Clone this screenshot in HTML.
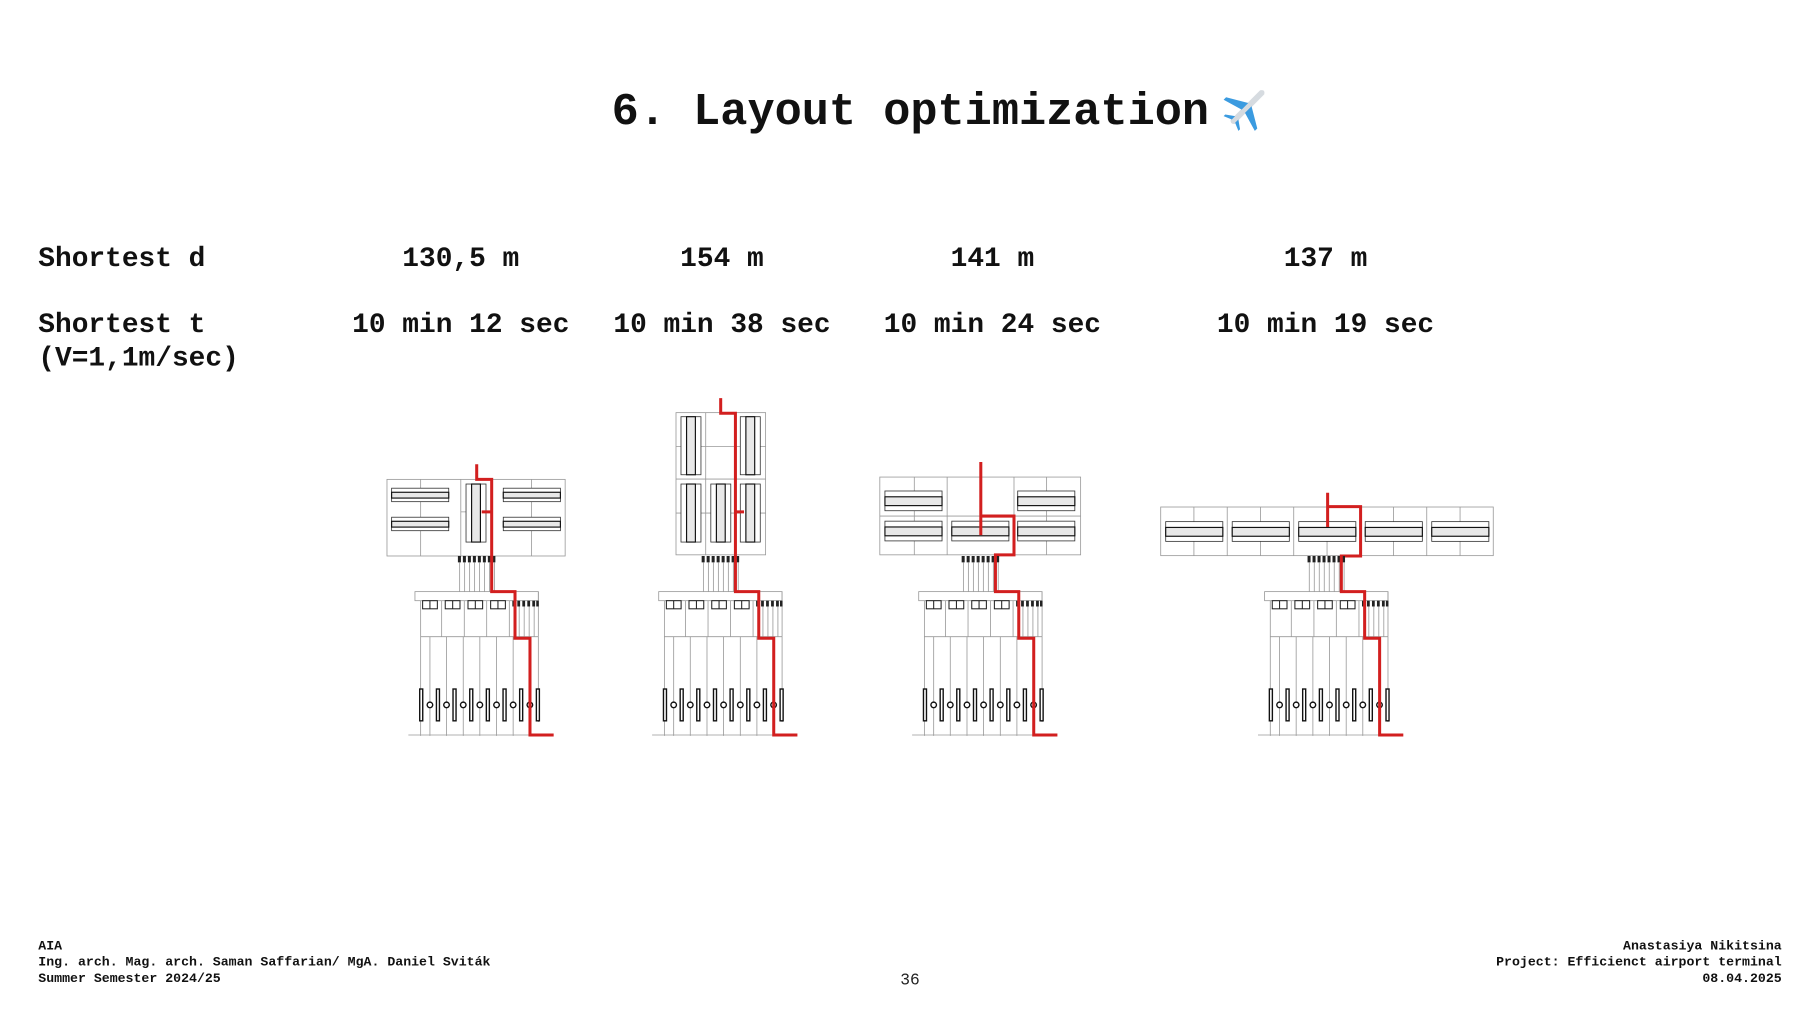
<!DOCTYPE html>
<html><head><meta charset="utf-8"><style>
html,body{margin:0;padding:0;background:#fff;}
svg{display:block;}
.t{font-family:"Liberation Mono",monospace;font-weight:bold;fill:#111;}
.g{stroke:#999;stroke-width:0.7;fill:none;}
.k{stroke:#222;stroke-width:0.9;}
.r{stroke:#d21f1f;stroke-width:2.6;fill:none;stroke-linejoin:miter;}
</style></head><body>
<svg width="1820" height="1024" viewBox="0 0 1568 882.2" preserveAspectRatio="none" xmlns="http://www.w3.org/2000/svg">
<defs>
<g id="term">
  <g fill="#222">
    <rect x="394.5" y="479" width="2.6" height="5.5"/><rect x="398.8" y="479" width="2.6" height="5.5"/>
    <rect x="403.1" y="479" width="2.6" height="5.5"/><rect x="407.4" y="479" width="2.6" height="5.5"/>
    <rect x="411.7" y="479" width="2.6" height="5.5"/><rect x="416" y="479" width="2.6" height="5.5"/>
    <rect x="420.3" y="479" width="2.6" height="5.5"/><rect x="424.2" y="479" width="2.6" height="5.5"/>
  </g>
  <g class="g">
    <path d="M396 484.5V510M400.3 484.5V510M404.6 484.5V510M408.9 484.5V510M413.2 484.5V510M417.5 484.5V510M421.8 484.5V510M426 484.5V510"/>
    <rect x="357.5" y="509.7" width="106.3" height="7.8"/>
    <path d="M362.4 517.5V634M380.5 517.5V548.5M400 517.5V548.5M419.3 517.5V548.5M438.8 517.5V548.5M443 517.5V548.5M447.3 517.5V548.5M451.6 517.5V548.5M455.9 517.5V548.5M460.2 517.5V548.5M463.8 509.7V548.5"/>
    <path d="M362.4 548.5H463.8"/>
    <path d="M370.4 548.5V634M384.7 548.5V634M399.1 548.5V634M413.4 548.5V634M427.8 548.5V634M442.1 548.5V634M456.5 548.5V634M463.8 548.5V622"/>
    <path d="M351.8 633.2H457"/>
  </g>
  <g fill="#fff" stroke="#222" stroke-width="0.9">
    <rect x="364.1" y="517.5" width="12.7" height="7"/><rect x="383.6" y="517.5" width="12.7" height="7"/>
    <rect x="403.2" y="517.5" width="12.6" height="7"/><rect x="422.7" y="517.5" width="12.7" height="7"/>
  </g>
  <path class="k" d="M370.4 517.5v7M390 517.5v7M409.5 517.5v7M429 517.5v7"/>
  <g fill="#222">
    <rect x="441.4" y="517.5" width="2.4" height="5"/><rect x="445.7" y="517.5" width="2.4" height="5"/>
    <rect x="450" y="517.5" width="2.4" height="5"/><rect x="454.3" y="517.5" width="2.4" height="5"/>
    <rect x="458.6" y="517.5" width="2.4" height="5"/><rect x="462" y="517.5" width="2.2" height="5"/>
  </g>
  <g fill="#fff" stroke="#111" stroke-width="1.2">
    <rect x="361.6" y="593.6" width="2.6" height="27.4"/><rect x="376" y="593.6" width="2.6" height="27.4"/>
    <rect x="390.3" y="593.6" width="2.6" height="27.4"/><rect x="404.7" y="593.6" width="2.6" height="27.4"/>
    <rect x="419" y="593.6" width="2.6" height="27.4"/><rect x="433.4" y="593.6" width="2.6" height="27.4"/>
    <rect x="447.7" y="593.6" width="2.6" height="27.4"/><rect x="462.1" y="593.6" width="2.6" height="27.4"/>
    <circle cx="370.4" cy="607.3" r="2.4"/><circle cx="384.7" cy="607.3" r="2.4"/>
    <circle cx="399.1" cy="607.3" r="2.4"/><circle cx="413.4" cy="607.3" r="2.4"/>
    <circle cx="427.8" cy="607.3" r="2.4"/><circle cx="442.1" cy="607.3" r="2.4"/>
    <circle cx="456.5" cy="607.3" r="2.4"/>
  </g>
  <path class="r" d="M423.6 479V509.7H443.7V549.9H456.6V633.2H477"/>
</g>
<g id="hbar">
  <rect x="0" y="0" width="49.2" height="11.6" fill="#fff" stroke="#333" stroke-width="0.7"/>
  <rect x="0" y="3.5" width="49.2" height="5" fill="#e8e8e8" stroke="#111" stroke-width="1"/>
</g>
<g id="hbar2">
  <rect x="0" y="0" width="49.2" height="17" fill="#fff" stroke="#333" stroke-width="0.7"/>
  <rect x="0" y="5" width="49.2" height="7.6" fill="#e8e8e8" stroke="#111" stroke-width="1"/>
</g>
<g id="vbar">
  <rect x="0" y="0" width="17.2" height="50" fill="#fff" stroke="#333" stroke-width="0.7"/>
  <rect x="4.8" y="0" width="7.6" height="50" fill="#e8e8e8" stroke="#111" stroke-width="1"/>
</g>
</defs>

<text class="t" x="527" y="107" font-size="39">6. Layout optimization</text>
<g transform="translate(1074,93) rotate(45)">
  <path d="M-2.5 -19 Q0 -23 2.5 -19 L2.5 17 Q0 20 -2.5 17Z" fill="#d6dbe0"/>
  <path d="M-2 -4 L-19 6 L-19 9 L-2 4Z M2 -4 L19 6 L19 9 L2 4Z" fill="#3b9be0"/>
  <path d="M-2 12 L-9 17 L-9 19 L-2 16Z M2 12 L9 17 L9 19 L2 16Z" fill="#3b9be0"/>
</g>

<text class="t" x="33" y="229" font-size="24">Shortest d</text>
<text class="t" x="33" y="286" font-size="24">Shortest t</text>
<text class="t" x="33" y="315" font-size="24">(V=1,1m/sec)</text>
<g class="t" font-size="24" text-anchor="middle">
<text x="397" y="229">130,5 m</text><text x="622" y="229">154 m</text>
<text x="855" y="229">141 m</text><text x="1142" y="229">137 m</text>
<text x="397" y="286">10 min 12 sec</text><text x="622" y="286">10 min 38 sec</text>
<text x="855" y="286">10 min 24 sec</text><text x="1142" y="286">10 min 19 sec</text>
</g>

<rect class="g" x="333.4" y="413" width="153.5" height="66"/>
<path class="g" d="M362.4 413V479M397 413V479M424 413V479M458 413V479M397 441H424"/>
<use href="#hbar" x="337.4" y="420.6"/>
<use href="#hbar" x="337.4" y="445.6"/>
<use href="#hbar" x="433.6" y="420.6"/>
<use href="#hbar" x="433.6" y="445.6"/>
<use href="#vbar" x="401.5" y="417"/>
<path class="r" d="M410.7 400V413H423.6V479M415 441H423.6"/>
<use href="#term"/>

<rect class="g" x="582.4" y="355.5" width="77.2" height="122.5"/>
<path class="g" d="M608 355.5V478M634 355.5V478M582.4 412.7H659.6M582.4 384.8H659.6M582.4 442H659.6"/>
<use href="#vbar" x="586.7" y="359"/>
<use href="#vbar" x="637.8" y="359"/>
<use href="#vbar" x="586.7" y="417"/>
<use href="#vbar" x="612.4" y="417"/>
<use href="#vbar" x="637.8" y="417"/>
<path class="r" d="M620.9 343V356H633.6V479M633.6 441H641"/>
<use href="#term" transform="translate(210,0)"/>

<rect class="g" x="758" y="411" width="173" height="67"/>
<path class="g" d="M787.7 411V478M816 411V478M873.6 411V478M901.7 411V478M758 444.6H931"/>
<use href="#hbar2" x="762.4" y="423"/>
<use href="#hbar2" x="876.8" y="423"/>
<use href="#hbar2" x="762.4" y="449"/>
<use href="#hbar2" x="820" y="449"/>
<use href="#hbar2" x="876.8" y="449"/>
<path class="r" d="M845 398V461M845 444.6H873.6V478H857.6V480"/>
<use href="#term" transform="translate(434,0)"/>

<rect class="g" x="1000" y="436.8" width="286.5" height="41.9"/>
<path class="g" d="M1028.6 436.8V478.7M1057.3 436.8V478.7M1086 436.8V478.7M1114.6 436.8V478.7M1143.3 436.8V478.7M1171.9 436.8V478.7M1200.6 436.8V478.7M1229.2 436.8V478.7M1257.9 436.8V478.7"/>
<use href="#hbar2" x="1004.3" y="449.4"/>
<use href="#hbar2" x="1061.6" y="449.4"/>
<use href="#hbar2" x="1118.9" y="449.4"/>
<use href="#hbar2" x="1176.2" y="449.4"/>
<use href="#hbar2" x="1233.5" y="449.4"/>
<path class="r" d="M1143.8 424.5V454M1143.8 436.5H1172.2V479H1155.6V481"/>
<use href="#term" transform="translate(732,0)"/>

<g class="t" font-size="11.4">
<text x="33" y="818">AIA</text>
<text x="33" y="832">Ing. arch. Mag. arch. Saman Saffarian/ MgA. Daniel Sviták</text>
<text x="33" y="846">Summer Semester 2024/25</text>
<g text-anchor="end">
<text x="1535" y="818">Anastasiya Nikitsina</text>
<text x="1535" y="832">Project: Efficienct airport terminal</text>
<text x="1535" y="846">08.04.2025</text>
</g>
</g>
<text x="784" y="848" font-size="14" text-anchor="middle" font-family="Liberation Mono, monospace" fill="#222">36</text>
</svg>
</body></html>
